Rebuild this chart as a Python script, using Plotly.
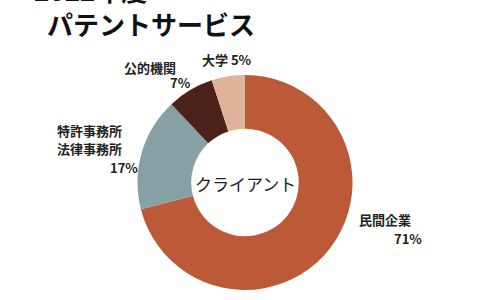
import plotly.graph_objects as go

title_lines = ["2022年度", "パテントサービス"]
center_text = "クライアント"
categories = ["民間企業", "特許事務所・法律事務所", "公的機関", "大学"]
values = [71, 17, 7, 5]
colors = ["#BC5937", "#87A0A5", "#4B2219", "#DFB399"]
# label lines per category
label_lines = [
    ["民間企業", f"{values[0]}%"],
    ["特許事務所", "法律事務所", f"{values[1]}%"],
    ["公的機関", f"{values[2]}%"],
    [f"大学 {values[3]}%"],
]

W, H = 490, 300
FONT = "Noto Sans CJK JP"

fig = go.Figure(go.Pie(
    labels=categories, values=values, hole=0.5,
    sort=False, direction="clockwise", rotation=0,
    marker=dict(colors=colors, line=dict(width=0)),
    textinfo="none", hoverinfo="label+percent",
    domain=dict(x=[137.5 / W, 352.5 / W], y=[10 / H, 225 / H]),
    showlegend=False,
))

def px(x, y):
    return x / W, 1 - y / H

anns = []
# title
for (x, y), t in zip([(32, -10), (45, 24)], title_lines):
    ax, ay = px(x, y)
    anns.append(dict(text=f"<b>{t}</b>", x=ax, y=ay, xref="paper", yref="paper",
                     xanchor="left", yanchor="middle", showarrow=False,
                     font=dict(family=FONT, size=26, color="#111")))
# center
cx, cy = px(245, 183)
anns.append(dict(text=center_text, x=cx, y=cy, xref="paper", yref="paper",
                 xanchor="center", yanchor="middle", showarrow=False,
                 font=dict(family=FONT, size=17, color="#222")))
# labels: left x positions / y centres for each line
label_pos = [
    [(357, 220), (392, 238)],
    [(55, 130), (55, 149), (108, 167)],
    [(122, 67), (168, 83)],
    [(200, 59)],
]
for lines, poss in zip(label_lines, label_pos):
    for t, (x, y) in zip(lines, poss):
        ax, ay = px(x, y)
        anns.append(dict(text=f"<b>{t}</b>", x=ax, y=ay, xref="paper", yref="paper",
                         xanchor="left", yanchor="middle", showarrow=False,
                         font=dict(family=FONT, size=13, color="#222")))

fig.update_layout(width=W, height=H, margin=dict(l=0, r=0, t=0, b=0),
                  paper_bgcolor="white", plot_bgcolor="white", annotations=anns)
fig.write_html("out.html")
